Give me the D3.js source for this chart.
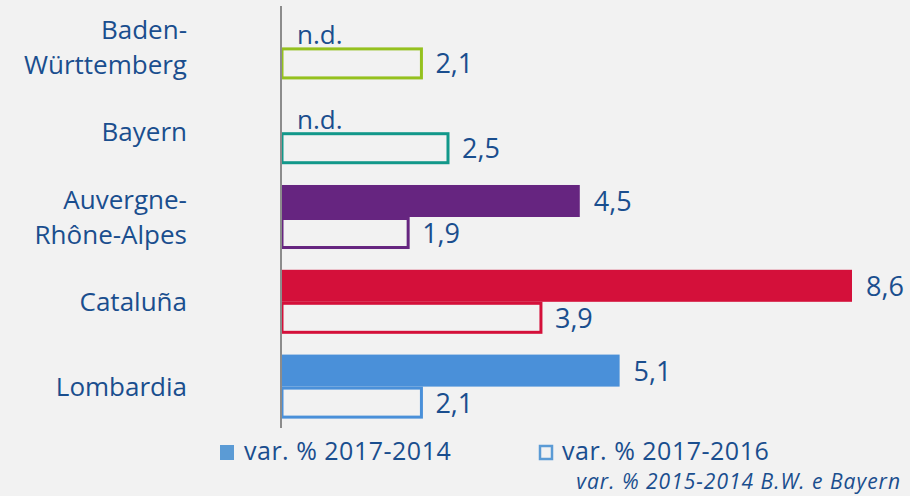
<!DOCTYPE html>
<html>
<head>
<meta charset="utf-8">
<script src="https://cdn.jsdelivr.net/npm/d3@7"></script>
<style>
  html, body { margin: 0; padding: 0; background: #f2f2f2; }
  svg { display: block; }
  text { font-family: "Open Sans", sans-serif; }
</style>
</head>
<body>
<svg id="chart" width="910" height="496"></svg>
<script>
const categories = [["Baden-", "Württemberg"], ["Bayern"], ["Auvergne-", "Rhône-Alpes"], ["Cataluña"], ["Lombardia"]];
const catKeys = ["Baden-Württemberg", "Bayern", "Auvergne-Rhône-Alpes", "Cataluña", "Lombardia"];
const var2017_2014 = [null, null, 4.5, 8.6, 5.1];
const var2017_2016 = [2.1, 2.5, 1.9, 3.9, 2.1];
const regionColors = ["#95c11f", "#12988a", "#662580", "#d4103a", "#4a90d9"];
const seriesNames = ["var. % 2017-2014", "var. % 2017-2016"];
const footnote = "var. % 2015-2014 B.W. e Bayern";
const naLabel = "n.d.";

const fmt = v => d3.format(".1f")(v).replace(".", ",");
const textColor = "#1a4e8e";

const svg = d3.select("#chart");
const x = d3.scaleLinear().domain([0, 8.6]).range([281, 852]);
const y = d3.scaleBand().domain(catKeys).range([5, 429]).paddingInner(0.245).paddingOuter(0.1225);
const ySub = d3.scaleBand().domain(["a", "b"]).range([0, y.bandwidth()]);

const rows = catKeys.map((k, i) => ({k, i, label: categories[i], a: var2017_2014[i], b: var2017_2016[i], c: regionColors[i]}));

const g = svg.append("g");

// filled bars
g.selectAll("rect.fill").data(rows.filter(d => d.a != null)).join("rect")
  .attr("class", "fill")
  .attr("x", x(0))
  .attr("y", d => y(d.k) + ySub("a"))
  .attr("width", d => x(d.a) - x(0))
  .attr("height", ySub.bandwidth())
  .attr("fill", d => d.c);

// outline bars
g.selectAll("rect.outline").data(rows).join("rect")
  .attr("class", "outline")
  .attr("x", x(0) + 1)
  .attr("y", d => y(d.k) + ySub("b") + 1.5)
  .attr("width", d => x(d.b) - x(0))
  .attr("height", ySub.bandwidth() - 3)
  .attr("fill", "none")
  .attr("stroke", d => d.c)
  .attr("stroke-width", 3);

// axis line
svg.append("line")
  .attr("x1", x(0)).attr("x2", x(0))
  .attr("y1", 6).attr("y2", 428)
  .attr("stroke", "#8c8c8c").attr("stroke-width", 2);

// value labels
g.selectAll("text.va").data(rows.filter(d => d.a != null)).join("text")
  .attr("class", "va")
  .attr("x", d => x(d.a) + 14)
  .attr("y", d => y(d.k) + ySub("a") + ySub.bandwidth() / 2 + 10)
  .attr("fill", textColor).attr("font-size", 27)
  .text(d => fmt(d.a));
g.selectAll("text.na").data(rows.filter(d => d.a == null)).join("text")
  .attr("class", "na")
  .attr("x", x(0) + 16)
  .attr("y", d => y(d.k) + ySub("a") + ySub.bandwidth() / 2 + 13)
  .attr("fill", textColor).attr("font-size", 26)
  .text(naLabel);
g.selectAll("text.vb").data(rows).join("text")
  .attr("class", "vb")
  .attr("x", d => x(d.b) + 15)
  .attr("y", d => y(d.k) + ySub("b") + ySub.bandwidth() / 2 + 10)
  .attr("fill", textColor).attr("font-size", 27)
  .text(d => fmt(d.b));

// category labels
const yAxis = d3.axisLeft(y).tickSize(0).tickFormat(() => "");
const ax = svg.append("g").attr("transform", "translate(187,0)").call(yAxis);
ax.select(".domain").remove();
ax.selectAll(".tick").each(function(k, i) {
  const lines = categories[i];
  const t = d3.select(this).append("text")
    .attr("text-anchor", "end")
    .attr("fill", textColor)
    .attr("font-size", 26);
  const lh = 35;
  lines.forEach((ln, j) => {
    t.append("tspan").attr("x", 0)
      .attr("y", (j - (lines.length - 1) / 2) * lh + 9)
      .text(ln);
  });
});

// legend
const leg = svg.append("g");
leg.append("rect").attr("x", 220).attr("y", 445).attr("width", 14).attr("height", 15).attr("fill", "#5b9bd5");
leg.append("text").attr("x", 244).attr("y", 460).attr("fill", textColor).attr("font-size", 25).attr("letter-spacing", 0.5).text(seriesNames[0]);
leg.append("rect").attr("x", 540).attr("y", 446).attr("width", 12).attr("height", 13).attr("fill", "none").attr("stroke", "#5b9bd5").attr("stroke-width", 2.5);
leg.append("text").attr("x", 562).attr("y", 460).attr("fill", textColor).attr("font-size", 25).attr("letter-spacing", 0.5).text(seriesNames[1]);
svg.append("text").attr("x", 901).attr("y", 489).attr("text-anchor", "end")
  .attr("fill", textColor).attr("font-size", 21).attr("letter-spacing", 1).attr("font-style", "italic").text(footnote);
</script>
</body>
</html>
